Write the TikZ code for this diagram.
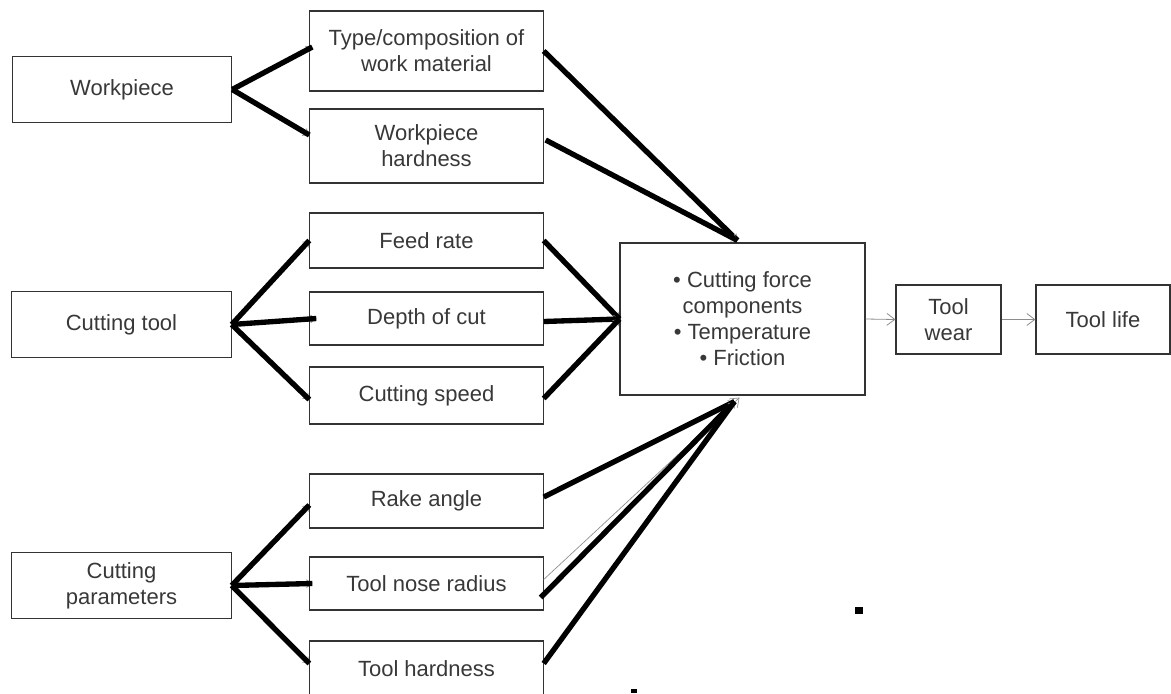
\documentclass[tikz,border=0pt]{standalone}
\usepackage{fontspec}
\setmainfont{Liberation Sans}
\usetikzlibrary{arrows.meta,calc}
\definecolor{boxline}{HTML}{333333}
\definecolor{ghostgray}{HTML}{8C8C8C}
\tikzset{
  box/.style={draw=boxline, line width=0.8pt, text=black!78, align=center,
    inner sep=0pt, font=\fontsize{16.5}{19.5}\selectfont},
  srcbox/.style={box, minimum width=164.5pt, minimum height=49pt},
  factor/.style={box, minimum width=175pt},
  link/.style={line width=4pt,
    preaction={draw=ghostgray, line width=0.5pt, -{Straight Barb[length=4pt,width=6pt]}}},
  flow/.style={draw=ghostgray, line width=0.6pt, -{Straight Barb[length=6pt,width=9pt]}}
}
\begin{document}
\begin{tikzpicture}[x=0.75pt, y=-0.75pt]
  \path[use as bounding box] (0,0) rectangle (1171,693);
  \clip (0,0) rectangle (1171,693);

  % sources
  \node[srcbox] (work) at (122,89.5) {Workpiece};
  \node[srcbox] (tool) at (121.5,324.5) {Cutting tool};
  \node[srcbox, minimum height=50pt] (param) at (121.5,585.5) {Cutting\\parameters};

  % factors
  \node[factor, minimum height=60pt] (type) at (426.5,51) {Type/composition of\\work material};
  \node[factor, minimum height=55.5pt] (hard) at (426.5,146) {Workpiece\\hardness};
  \node[factor, minimum height=41.25pt] (feed) at (426.5,240.5) {Feed rate};
  \node[factor, minimum height=39.75pt] (depth) at (426.5,318.5) {Depth of cut};
  \node[factor, minimum height=42.75pt] (speed) at (426.5,395.5) {Cutting speed};
  \node[factor, minimum height=40.5pt] (rake) at (426.5,501) {Rake angle};
  \node[factor, minimum height=39.75pt] (nose) at (426.5,583.5) {Tool nose radius};
  \node[factor, minimum height=41.25pt] (thard) at (426.5,668.5) {Tool hardness};

  % effects
  \node[box, minimum width=183.75pt, minimum height=114pt] (effect) at (742.5,319)
    {• Cutting force\\components\\• Temperature\\• Friction};
  \node[box, minimum width=78.75pt, minimum height=51.75pt] (wear) at (948.5,319.5) {Tool\\wear};
  \node[box, minimum width=100.5pt, minimum height=51.75pt] (life) at (1103,319.5) {Tool life};

  \coordinate (top) at ($(effect.north)+(-5,-2)$);
  \coordinate (bot) at ($(effect.south)+(-8,6)$);

  % workpiece branch
  \draw[link] (work.east) to ($(type.west)+(3,-4)$);
  \draw[link] (work.east) to ($(hard.west)+(0,-11)$);
  \draw[link] (type.east) to (top);
  \draw[link] ($(hard.east)+(2,-6)$) to (top);

  % cutting tool branch
  \draw[link] (tool.east) to (feed.west);
  \draw[link] (tool.east) to ($(depth.west)+(7,0)$);
  \draw[link] (tool.east) to ($(speed.west)+(0,4)$);
  \draw[link] (feed.east) to (effect.west);
  \draw[link] ($(depth.east)+(0,3)$) to (effect.west);
  \draw[link] ($(speed.east)+(0,3)$) to (effect.west);

  % cutting parameters branch
  \draw[link] (param.east) to ($(rake.west)+(0,4)$);
  \draw[link] (param.east) to ($(nose.west)+(3,0)$);
  \draw[link] (param.east) to ($(thard.west)+(0,-5)$);
  \draw[link] ($(rake.east)+(0,-4)$) to (bot);
  \draw[flow, line width=0.5pt] ($(nose.east)+(0,-4)$) to ($(effect.south)+(-3,2)$);
  \draw[line width=4pt] ($(nose.east)+(-3,14)$) to (bot);
  \draw[link] ($(thard.east)+(0,-5)$) to (bot);

  % result chain
  \draw[flow] (effect.east) to (wear.west);
  \draw[flow] (wear.east) to (life.west);

  \fill (855,607) rectangle (863,614);
  \fill (631,689) rectangle (637,693);
\end{tikzpicture}
\end{document}
